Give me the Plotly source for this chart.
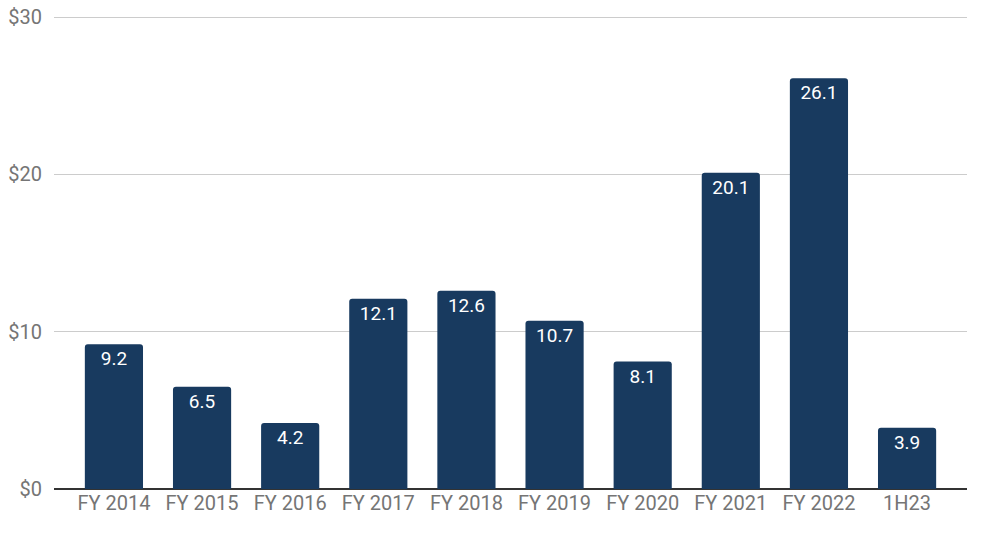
import plotly.graph_objects as go

categories = ["FY 2014", "FY 2015", "FY 2016", "FY 2017", "FY 2018",
              "FY 2019", "FY 2020", "FY 2021", "FY 2022", "1H23"]
values = [9.2, 6.5, 4.2, 12.1, 12.6, 10.7, 8.1, 20.1, 26.1, 3.9]
y_ticks = [0, 10, 20, 30]
y_tick_labels = ["$0", "$10", "$20", "$30"]

fig = go.Figure(go.Bar(
    x=categories, y=values,
    text=[f"{v:.1f}" for v in values],
    textposition="inside", insidetextanchor="end", textangle=0,
    constraintext="none",
    insidetextfont=dict(family="Roboto", size=19, color="white"),
    marker=dict(color="#183a5f", cornerradius=3, line=dict(width=0)),
    width=0.66,
))

fig.update_layout(
    width=982, height=541,
    margin=dict(l=54, r=15, t=15, b=52),
    plot_bgcolor="white", paper_bgcolor="white",
    showlegend=False,
    font=dict(family="Roboto", size=20, color="#757575"),
    xaxis=dict(range=[-0.68, 9.68], showgrid=False, showline=False,
               ticks="", automargin=False,
               tickfont=dict(size=20, color="#757575")),
    yaxis=dict(range=[0, 30.127], tickvals=y_ticks, ticktext=y_tick_labels,
               showgrid=True, gridcolor="#cccccc", gridwidth=1,
               zeroline=True, zerolinecolor="#333333", zerolinewidth=1.5,
               showline=False, ticks="", ticklabelstandoff=11,
               ticklabeloverflow="allow",
               automargin=False,
               tickfont=dict(size=20, color="#757575")),
)

fig.write_html("out.html",
               config={"displayModeBar": False},
               post_script="document.body.style.margin='0';")
